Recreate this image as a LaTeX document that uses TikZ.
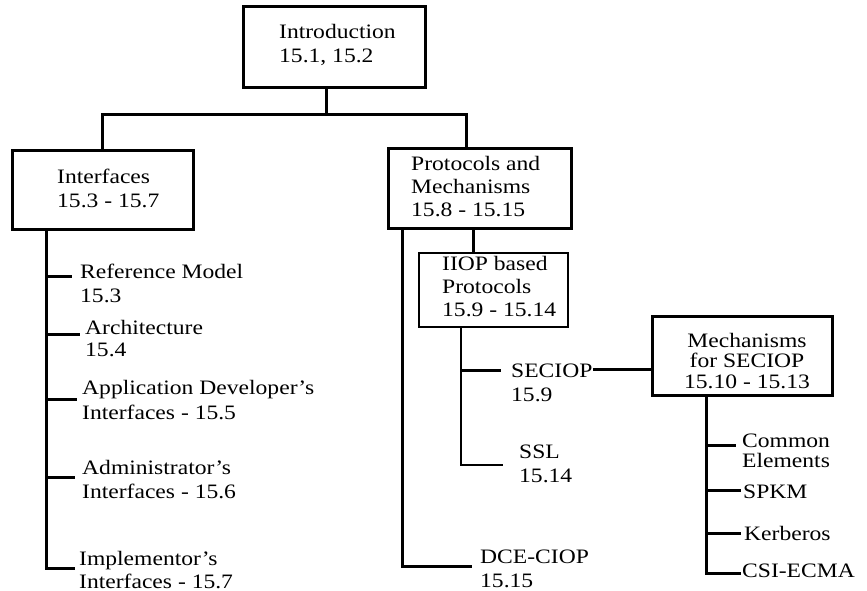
\documentclass[tikz,border=0pt]{standalone}
\usepackage{fontspec}
\setmainfont{Liberation Serif}[FakeStretch=1.15]
\newcommand\mlines[1]{\begin{tabular}[t]{@{}l@{}}#1\end{tabular}}
\newcommand\mlinesc[1]{\begin{tabular}[t]{@{}c@{}}#1\end{tabular}}
\tikzset{
  box/.style={draw, rectangle, line width=3pt, inner sep=0pt},
  thinbox/.style={draw, rectangle, line width=2.2pt, inner sep=0pt},
  conn/.style={line width=3pt},
  thinconn/.style={line width=2.2pt},
  txt/.style={anchor=base west, inner sep=0pt, font=\fontsize{20.5pt}{24pt}\selectfont},
  tighttxt/.style={txt, font=\fontsize{20.5pt}{20.5pt}\selectfont},
}
\begin{document}
\begin{tikzpicture}[x=1pt,y=-1pt]
\useasboundingbox (0,0) rectangle (867,591);
% boxes
\node[box, minimum width=182pt, minimum height=81pt] (intro) at (334,47.5) {};
\node[box, minimum width=181pt, minimum height=79pt] (iface) at (102.5,189.5) {};
\node[box, minimum width=183pt, minimum height=80pt] (proto) at (479.5,188) {};
\node[thinbox, minimum width=149pt, minimum height=74pt] (iiop) at (493.5,290) {};
\node[box, minimum width=180pt, minimum height=79pt] (mech) at (742,356) {};
% box texts
\node[txt] (introT) at (279,39) {\mlines{Introduction\\15.1, 15.2}};
\node[txt] (ifaceT) at (57,183) {\mlines{Interfaces\\15.3 - 15.7}};
\node[txt, font=\fontsize{20.5pt}{23.5pt}\selectfont] (protoT) at (411,170) {\mlines{Protocols and\\Mechanisms\\15.8 - 15.15}};
\node[txt, font=\fontsize{20.5pt}{23pt}\selectfont] (iiopT) at (442,270) {\mlines{IIOP based\\Protocols\\15.9 - 15.14}};
\node[tighttxt, anchor=base] (mechT) at (747,347) {\mlinesc{Mechanisms\\for SECIOP\\15.10 - 15.13}};
% leaf texts
\node[txt] (refT) at (80,278) {\mlines{Reference Model\\15.3}};
\node[txt, font=\fontsize{20.5pt}{22pt}\selectfont] (archT) at (85,334) {\mlines{Architecture\\15.4}};
\node[txt, font=\fontsize{20.5pt}{25pt}\selectfont] (appT) at (82,394) {\mlines{Application Developer’s\\Interfaces - 15.5}};
\node[txt] (admT) at (82,474) {\mlines{Administrator’s\\Interfaces - 15.6}};
\node[txt, font=\fontsize{20.5pt}{23pt}\selectfont] (implT) at (79,565) {\mlines{Implementor’s\\Interfaces - 15.7}};
\node[txt] (secT) at (511,377) {\mlines{SECIOP\\15.9}};
\node[txt] (sslT) at (519,458) {\mlines{SSL\\15.14}};
\node[txt] (dceT) at (480,563) {\mlines{DCE-CIOP\\15.15}};
\node[tighttxt] (comT) at (742,447) {\mlines{Common\\Elements}};
\node[txt] (spkmT) at (743,498) {SPKM};
\node[txt] (kerbT) at (744,540) {Kerberos};
\node[txt] (csiT) at (742,577) {CSI-ECMA};
% junction coordinates
\coordinate (j0) at (326,115);
\coordinate (jr) at (466,115);
\coordinate (itr) at (46,568);
\coordinate (e1) at (72,276);
\coordinate (e2) at (80,334);
\coordinate (e3) at (77,399);
\coordinate (e4) at (75,477);
\coordinate (e5) at (75,568);
\coordinate (ptr) at (402,566);
\coordinate (dce) at (472,566);
\coordinate (pi) at (473,240);
\coordinate (itr2) at (461,465);
\coordinate (sec) at (501,370);
\coordinate (ssl) at (503,465);
\coordinate (secR) at (593,369);
\coordinate (mtr) at (706,573);
\coordinate (m1) at (736,445);
\coordinate (m2) at (741,490);
\coordinate (m3) at (741,533);
\coordinate (m4) at (741,573);
% connectors
\draw[conn] (intro.south -| j0) -- (j0);
\draw[conn] (iface.north) |- (jr) -- (proto.north -| jr);
\draw[conn] (iface.south -| itr) -- (itr) -- (e5);
\foreach \e in {e1,e2,e3,e4} \draw[conn] (\e -| itr) -- (\e);
\draw[conn] (proto.south -| ptr) -- (ptr) -- (dce);
\draw[conn] (proto.south -| pi) -- (iiop.north -| pi);
\draw[thinconn] (iiop.south -| itr2) -- (itr2) -- (ssl);
\draw[conn] (sec -| itr2) -- (sec);
\draw[conn] (secR) -- (mech.west |- secR);
\draw[conn] (mech.south -| mtr) -- (mtr) -- (m4);
\foreach \e in {m1,m2,m3} \draw[conn] (\e -| mtr) -- (\e);
\end{tikzpicture}
\end{document}
